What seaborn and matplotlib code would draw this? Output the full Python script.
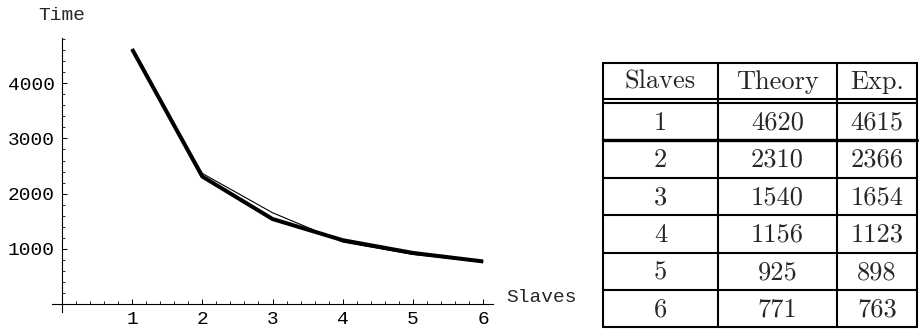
import numpy as np
import pandas as pd
import matplotlib
matplotlib.use("Agg")
import matplotlib.pyplot as plt
import seaborn as sns
from matplotlib.ticker import MultipleLocator

# Daten aus der Tabelle
slaves = [1, 2, 3, 4, 5, 6]
theory = [4620, 2310, 1540, 1156, 925, 771]
exp = [4615, 2366, 1654, 1123, 898, 763]
headers = ["Slaves", "Theory", "Exp."]
x_ticks = [1, 2, 3, 4, 5, 6]
y_ticks = [1000, 2000, 3000, 4000]

df = pd.DataFrame({"Slaves": slaves * 2,
                   "Time": theory + exp,
                   "series": ["Theory"] * 6 + ["Exp."] * 6})

sns.set_theme(style="white")
mono = ["Liberation Mono", "DejaVu Sans Mono"]
plt.rcParams["font.family"] = mono

W, H = 919, 329
fig = plt.figure(figsize=(W / 100, H / 100), dpi=100)

# Diagramm im Mathematica-Stil
ax = fig.add_axes([52 / W, 17 / H, 441 / W, 274 / H])
sns.lineplot(data=df[df.series == "Exp."], x="Slaves", y="Time", ax=ax,
             color="black", linewidth=0.8, legend=False)
sns.lineplot(data=df[df.series == "Theory"], x="Slaves", y="Time", ax=ax,
             color="black", linewidth=2.9, legend=False,
             solid_capstyle="butt")
ax.set_xlim(-0.14, 6.14)
ax.set_ylim(-145, 4820)
for s in ["top", "right"]:
    ax.spines[s].set_visible(False)
ax.spines["left"].set_position(("data", 0))
ax.spines["bottom"].set_position(("data", 0))
for s in ["left", "bottom"]:
    ax.spines[s].set_color("black")
    ax.spines[s].set_linewidth(0.8)
ax.set_xticks(x_ticks)
ax.set_yticks(y_ticks)
ax.xaxis.set_minor_locator(MultipleLocator(0.2))
ax.yaxis.set_minor_locator(MultipleLocator(200))
ax.tick_params(which="both", bottom=True, left=True)
ax.tick_params(which="major", direction="in", length=3.5, width=0.7,
               colors="black", labelsize=14, pad=5)
ax.tick_params(which="minor", direction="in", length=2, width=0.6,
               colors="black")
ax.set_xlabel("")
ax.set_ylabel("")
ax.grid(False)
ax.patch.set_alpha(0)

fig.text(62 / W, 1 - 15 / H, "Time", ha="center", va="center",
         fontsize=14, family=mono)
fig.text(506 / W, 1 - 297 / H, "Slaves", ha="left", va="center",
         fontsize=14, family=mono)

# Tabelle rechts
tab = fig.add_axes([0, 0, 1, 1])
tab.set_xlim(0, W)
tab.set_ylim(H, 0)
tab.axis("off")
cols = [603, 718, 837, 917]
top, head_bot, body_top, row_h = 63, 99, 103, 37.4
rows = [body_top + row_h * k for k in range(len(slaves) + 1)]
bottom = rows[-1]
lw = 1.5
for xc in cols:
    tab.plot([xc, xc], [top, bottom], color="black", lw=lw)
tab.plot([cols[0], cols[-1]], [top, top], color="black", lw=lw)
tab.plot([cols[0], cols[-1]], [head_bot, head_bot], color="black", lw=lw)
for k, yr in enumerate(rows):
    tab.plot([cols[0], cols[-1]], [yr, yr], color="black",
             lw=2.4 if k == 1 else lw)

serif = ["cmr10", "DejaVu Serif"]
centers = [(cols[i] + cols[i + 1]) / 2 for i in range(3)]
for c, h in zip(centers, headers):
    tab.text(c, (top + head_bot) / 2 + 1, h, ha="center", va="center",
             fontsize=19, family=serif)
for i in range(len(slaves)):
    yc = (rows[i] + rows[i + 1]) / 2 + 1
    for c, v in zip(centers, [slaves[i], theory[i], exp[i]]):
        tab.text(c, yc, str(v), ha="center", va="center",
                 fontsize=19, family=serif)

fig.savefig("out.png", dpi=100)
